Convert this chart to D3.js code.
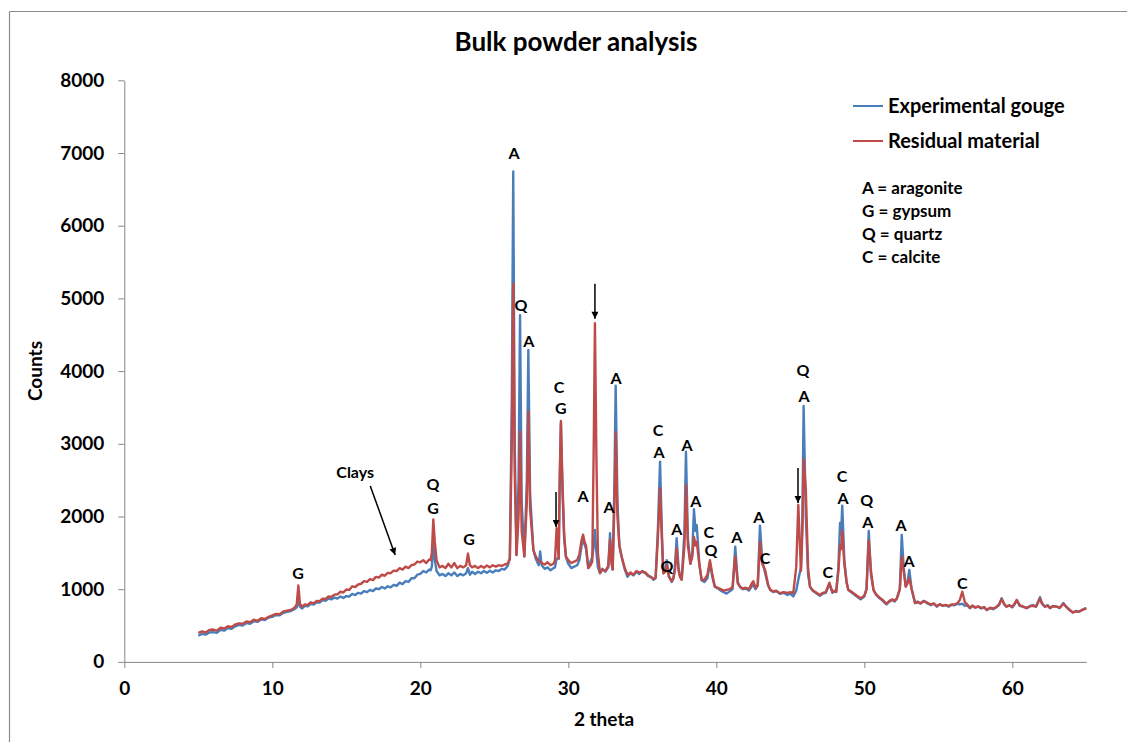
<!DOCTYPE html>
<html><head><meta charset="utf-8">
<script src="https://cdn.jsdelivr.net/npm/d3@7"></script>
<style>
html,body{margin:0;padding:0;background:#fff;}
svg{display:block;}
text{font-family:"Lato","Open Sans",sans-serif;font-weight:bold;fill:#000;}
</style></head>
<body>
<svg id="chart" width="1127" height="742"></svg>
<script>
// ---- data ----
const twoTheta = [
 5.0,5.25,5.5,5.75,6.0,6.25,6.5,6.75,7.0,7.25,
 7.5,7.75,8.0,8.25,8.5,8.75,9.0,9.25,9.5,9.75,
 10.0,10.25,10.5,10.75,11.0,11.25,11.5,11.65,11.76,11.87,
 12.0,12.2,12.4,12.6,12.8,13.0,13.2,13.4,13.6,13.8,
 14.0,14.2,14.4,14.6,14.8,15.0,15.2,15.4,15.6,15.8,
 16.0,16.2,16.4,16.6,16.8,17.0,17.2,17.4,17.6,17.8,
 18.0,18.2,18.4,18.6,18.8,19.0,19.2,19.4,19.6,19.8,
 20.0,20.2,20.4,20.6,20.7,20.78,20.88,20.98,21.1,21.3,
 21.5,21.7,21.9,22.1,22.3,22.5,22.7,22.9,23.1,23.22,
 23.35,23.5,23.7,23.9,24.1,24.3,24.5,24.7,24.9,25.1,
 25.3,25.5,25.7,25.9,26.05,26.18,26.28,26.38,26.5,26.64,
 26.74,26.85,27.03,27.2,27.3,27.42,27.64,27.8,28.0,28.1,
 28.2,28.4,28.6,28.8,29.0,29.1,29.21,29.35,29.42,29.5,
 29.6,29.72,29.84,30.0,30.2,30.4,30.6,30.75,30.9,31.0,
 31.1,31.2,31.35,31.5,31.62,31.72,31.8,31.9,32.0,32.14,
 32.3,32.5,32.7,32.82,32.92,33.0,33.12,33.2,33.32,33.45,
 33.6,33.8,34.0,34.2,34.4,34.6,34.8,35.0,35.2,35.4,
 35.6,35.75,35.9,36.05,36.2,36.32,36.42,36.55,36.65,36.8,
 36.99,37.1,37.2,37.32,37.45,37.55,37.66,37.85,37.95,38.08,
 38.25,38.38,38.49,38.6,38.68,38.85,39.01,39.2,39.4,39.57,
 39.75,39.9,40.1,40.3,40.5,40.7,40.9,41.1,41.28,41.45,
 41.6,41.8,42.0,42.2,42.4,42.5,42.65,42.8,42.95,43.1,
 43.3,43.5,43.65,43.85,44.05,44.3,44.55,44.8,45.0,45.2,
 45.4,45.54,45.72,45.82,45.9,46.05,46.2,46.33,46.5,46.7,
 46.85,47.0,47.2,47.4,47.64,47.85,48.0,48.1,48.25,48.36,
 48.43,48.51,48.65,48.8,48.92,49.1,49.3,49.5,49.75,50.0,
 50.15,50.3,50.45,50.62,50.8,51.0,51.2,51.35,51.5,51.7,
 51.9,52.05,52.2,52.4,52.53,52.66,52.8,52.92,53.04,53.2,
 53.43,53.6,53.8,54.0,54.1,54.3,54.5,54.7,54.9,55.1,
 55.3,55.5,55.7,55.9,56.1,56.3,56.45,56.62,56.8,56.95,
 57.14,57.3,57.5,57.7,57.9,58.1,58.27,58.5,58.7,58.9,
 59.1,59.28,59.45,59.6,59.8,60.0,60.15,60.3,60.5,60.7,
 60.97,61.2,61.4,61.6,61.87,62.0,62.2,62.4,62.55,62.75,
 63.0,63.2,63.45,63.65,63.85,64.1,64.3,64.5,64.75,65.0
];
const gougeCounts = [
 360,385,375,405,410,400,440,430,465,455,
 490,510,500,535,525,560,550,585,575,610,
 620,645,640,675,690,700,725,750,830,760,
 735,770,765,800,790,820,815,850,840,870,
 860,885,870,900,880,905,900,935,920,950,
 940,975,960,990,975,1010,1000,1030,1010,1040,
 1025,1060,1045,1090,1070,1110,1100,1150,1150,1200,
 1210,1250,1230,1270,1260,1310,1630,1400,1250,1190,
 1210,1180,1220,1190,1230,1180,1210,1190,1220,1290,
 1200,1240,1210,1240,1220,1250,1225,1255,1230,1260,
 1250,1280,1270,1320,1420,3500,6745,3000,1470,2500,
 4770,2200,1450,2500,4290,2300,1540,1420,1330,1520,
 1330,1280,1300,1260,1290,1300,1420,1420,2500,3280,
 2400,1700,1440,1350,1290,1310,1330,1400,1600,1680,
 1620,1550,1290,1380,1440,1600,1815,1500,1300,1220,
 1280,1240,1300,1770,1400,1270,2500,3800,2200,1600,
 1450,1280,1170,1220,1190,1240,1210,1250,1220,1180,
 1170,1130,1150,1800,2755,1800,1220,1250,1400,1180,
 1100,1150,1300,1700,1300,1180,1130,1800,2890,1700,
 1350,1500,2100,1800,1880,1350,1120,1100,1150,1360,
 1150,1030,1010,980,960,940,970,1000,1585,1100,
 1030,1000,1010,980,1040,1060,1000,1050,1875,1400,
 1220,1050,990,960,975,935,950,920,940,900,
 980,1130,1300,2000,3520,2000,1200,1035,980,950,
 930,910,940,950,1070,950,970,960,1300,1910,
 1750,2150,1400,1100,990,960,930,900,860,900,
 1000,1800,1200,990,920,880,850,820,790,830,
 850,830,870,1000,1745,1300,1035,1100,1265,1000,
 810,830,800,840,830,800,780,800,760,790,
 770,780,760,785,780,800,790,800,770,780,
 740,770,745,760,735,750,715,740,725,750,
 780,875,790,760,780,750,790,850,770,760,
 740,770,780,760,890,800,760,780,740,770,
 760,740,810,760,720,680,700,690,720,740
];
const residualCounts = [
 400,420,405,440,445,430,470,460,490,480,
 515,530,525,555,545,580,565,600,590,620,
 640,660,655,695,705,715,745,790,1050,800,
 760,790,785,820,805,840,835,870,865,900,
 895,925,930,965,955,995,990,1040,1030,1065,
 1075,1110,1100,1140,1125,1170,1160,1200,1185,1225,
 1220,1255,1250,1290,1270,1310,1290,1330,1340,1380,
 1370,1400,1360,1410,1400,1500,1960,1650,1400,1300,
 1320,1290,1350,1300,1360,1290,1320,1300,1330,1490,
 1330,1300,1320,1290,1320,1295,1325,1300,1330,1310,
 1330,1320,1340,1350,1420,3000,5200,2600,1470,2000,
 3170,1800,1450,2200,3440,2100,1540,1450,1390,1380,
 1360,1340,1370,1330,1350,1400,1840,1420,2500,3315,
 2500,1750,1450,1400,1360,1380,1400,1480,1680,1750,
 1650,1600,1290,1330,1380,3000,4660,2800,1500,1220,
 1270,1250,1320,1680,1350,1270,2200,3155,2000,1600,
 1450,1300,1200,1230,1200,1250,1230,1240,1230,1190,
 1160,1140,1160,1700,2390,1700,1220,1240,1330,1170,
 1110,1150,1250,1560,1250,1170,1130,1600,2430,1600,
 1350,1450,1720,1600,1650,1350,1130,1130,1200,1400,
 1180,1040,1020,1000,980,990,1000,1030,1450,1080,
 1035,1010,1020,1000,1080,1110,1020,1060,1655,1350,
 1265,1060,990,970,980,945,960,950,960,945,
 1300,2160,1250,1800,2790,2360,1300,1035,990,960,
 940,920,950,960,1090,960,980,970,1250,1600,
 1550,1800,1350,1100,990,970,940,910,875,910,
 1000,1670,1250,990,930,890,860,830,800,840,
 860,840,875,1000,1450,1250,1035,1080,1150,1000,
 810,820,810,830,830,810,790,805,765,795,
 775,785,770,790,790,810,850,965,820,790,
 740,775,750,765,740,755,715,745,735,750,
 790,860,800,760,775,760,800,850,780,765,
 740,765,770,760,870,810,760,770,740,765,
 760,745,800,755,715,680,695,690,715,740
];
const seriesNames = ["Experimental gouge","Residual material"];
const yTicks = [0,1000,2000,3000,4000,5000,6000,7000,8000];
const xTicks = [0,10,20,30,40,50,60];
const keyLines = ["A = aragonite","G = gypsum","Q = quartz","C = calcite"];
// peak labels: text, 2θ, counts (label centre)
const labelText = ["G","Q","G","G","A","Q","A","C","G","A","A","A","C","A","Q","A","A","A","C","Q","A","A","C","Q","A","C","C","A","Q","A","A","A","C","Clays"];
const labelX    = [11.74,20.86,20.86,23.29,26.33,26.8,27.34,29.37,29.5,31.0,32.75,33.22,36.06,36.13,36.67,37.34,38.02,38.62,39.5,39.64,41.39,42.88,43.29,45.86,45.93,47.54,48.5,48.56,50.17,50.24,52.48,53.02,56.62,15.6];
const labelY    = [1223,2448,2118,1691,6995,4911,4416,3783,3494,2283,2131,3900,3192,2889,1321,1830,2986,2215,1788,1540,1719,1994,1431,4017,3659,1238,2559,2256,2228,1925,1884,1389,1086,2613];
// arrows: from (x1,y1) to (x2,y2) in data units
const arrowX1 = [16.62,29.17,31.8,45.52];
const arrowY1 = [2420,2338,5200,2668];
const arrowX2 = [18.3,29.17,31.8,45.52];
const arrowY2 = [1471,1857,4719,2187];

// ---- drawing ----
const svg = d3.select("#chart");
const colors = ["#4a7ebb","#be4b48"];
const x = d3.scaleLinear().domain([0,65]).range([124.3,1086.3]);
const y = d3.scaleLinear().domain([0,8000]).range([661.9,80.3]);

// outer frame
svg.append("line").attr("x1",9.5).attr("y1",11.5).attr("x2",1127).attr("y2",11.5).attr("stroke","#8c8c8c").attr("stroke-width",1.2);
svg.append("line").attr("x1",9.5).attr("y1",11.5).attr("x2",9.5).attr("y2",742).attr("stroke","#8c8c8c").attr("stroke-width",1.2);

// title
svg.append("text").attr("x",576).attr("y",51).attr("text-anchor","middle").style("font-size","26px").text("Bulk powder analysis");

// axes
const yAxis = d3.axisLeft(y).tickValues(yTicks).tickSize(6).tickSizeOuter(0).tickPadding(14).tickFormat(d3.format("d"));
const xAxis = d3.axisBottom(x).tickValues(xTicks).tickSize(6).tickSizeOuter(0).tickPadding(14).tickFormat(d3.format("d"));
const gy = svg.append("g").attr("transform",`translate(${x(0)},0)`).call(yAxis);
const gx = svg.append("g").attr("transform",`translate(0,${y(0)})`).call(xAxis);
[gx,gy].forEach(g=>{
  g.selectAll("path,line").attr("stroke","#868686");
  g.selectAll("text").style("font-size","19px").style("font-family","Lato, 'Open Sans', sans-serif").style("font-weight","bold").attr("fill","#000");
});

svg.append("text").attr("transform","translate(42,371) rotate(-90)").attr("text-anchor","middle").style("font-size","19px").text("Counts");
svg.append("text").attr("x",604).attr("y",726).attr("text-anchor","middle").style("font-size","19px").text("2 theta");

// series
const line = d3.line().x(d=>x(d[0])).y(d=>y(d[1]));
[gougeCounts,residualCounts].forEach((vals,i)=>{
  const pts = twoTheta.map((t,j)=>[t,vals[j]]);
  svg.append("path").datum(pts).attr("d",line).attr("fill","none")
    .attr("stroke",colors[i]).attr("stroke-width",2.4).attr("stroke-linejoin","round");
});

// legend
seriesNames.forEach((n,i)=>{
  const yy = 106 + i*35;
  svg.append("line").attr("x1",853).attr("x2",883).attr("y1",yy).attr("y2",yy).attr("stroke",colors[i]).attr("stroke-width",2);
  svg.append("text").attr("x",888).attr("y",yy).attr("dy","0.36em").style("font-size","20px").text(n);
});
keyLines.forEach((t,i)=>{
  svg.append("text").attr("x",862).attr("y",188+i*23).attr("dy","0.36em").style("font-size","17px").text(t);
});

// peak labels
labelText.forEach((t,i)=>{
  svg.append("text").attr("x",x(labelX[i])).attr("y",y(labelY[i])).attr("dy","0.36em")
    .attr("text-anchor","middle").style("font-size","16px").text(t);
});

// arrows
const defs = svg.append("defs");
defs.append("marker").attr("id","ah").attr("viewBox","0 0 10 10").attr("refX",10).attr("refY",5)
  .attr("markerWidth",8).attr("markerHeight",7).attr("markerUnits","userSpaceOnUse").attr("orient","auto")
  .append("path").attr("d","M0,0 L10,5 L0,10 z").attr("fill","#000");
arrowX1.forEach((v,i)=>{
  svg.append("line").attr("x1",x(v)).attr("y1",y(arrowY1[i])).attr("x2",x(arrowX2[i])).attr("y2",y(arrowY2[i]))
    .attr("stroke","#000").attr("stroke-width",1.5).attr("marker-end","url(#ah)");
});
</script>
</body></html>
